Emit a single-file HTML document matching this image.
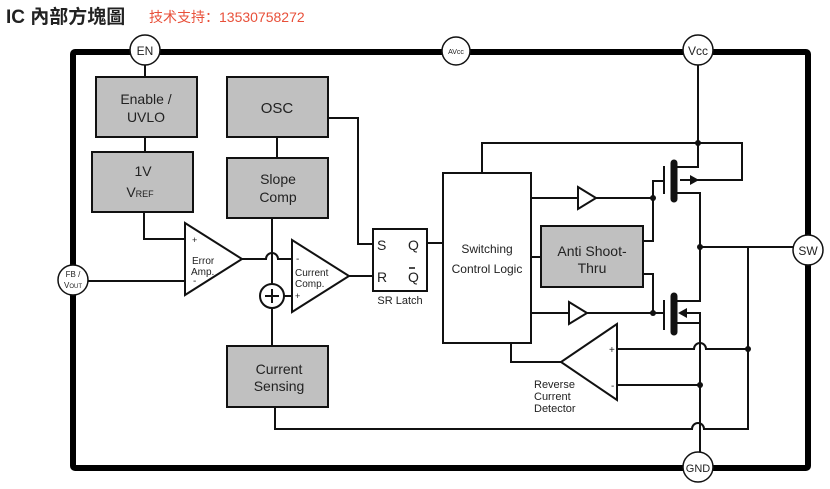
<!DOCTYPE html>
<html><head><meta charset="utf-8"><style>
body{margin:0;background:#fff;width:830px;height:489px;overflow:hidden}
svg{display:block}
text{font-family:"Liberation Sans",Arial,sans-serif;fill:#222}
</style></head><body>
<svg width="830" height="489" viewBox="0 0 830 489">
<text x="6" y="23" font-size="19" font-weight="bold" fill="#111" style="font-family:'Liberation Sans','Noto Sans CJK TC',sans-serif">IC 內部方塊圖</text>
<text x="149" y="22" font-size="14" style="font-family:'Liberation Sans','Noto Sans CJK SC',sans-serif;fill:#e8503a">技术支持：13530758272</text>
<rect x="73" y="52" width="735" height="416" fill="none" stroke="#000" stroke-width="6" rx="2"/>
<g fill="none" stroke="#111" stroke-width="2">
<path d="M145 65V77M145 137V152M277 137V158"/>
<path d="M144 212V239H185"/>
<path d="M88 281H185"/>
<path d="M242 259H266A6 6 0 0 1 278 259H292"/>
<path d="M272 218V284M272 308V346M284 296H292"/>
<path d="M349 276H373"/>
<path d="M328 118H358V244H373"/>
<path d="M427 243H443"/>
<path d="M275 407V429H692A6 6 0 0 1 704 429H748V247"/>
<path d="M700 247H793"/>
<path d="M482 173V143H742V180H680"/>
<path d="M698 65V167H674"/>
<path d="M674 193H700V301H674"/>
<path d="M664 166V194M664 300V330"/>
<path d="M531 198H578M596 198H653V181H664"/>
<path d="M643 241H653V198"/>
<path d="M531 257H541"/>
<path d="M531 313H569M587 313H664"/>
<path d="M643 274H653V313"/>
<path d="M682 313H700V323H674M700 323V452"/>
<path d="M617 349H694A6 6 0 0 1 706 349H748"/>
<path d="M617 385H700"/>
<path d="M561 362H511V343"/>
</g>
<g stroke="#111" stroke-width="7" stroke-linecap="round"><path d="M674 163V199M674 296V332"/></g>
<g fill="#111"><path d="M699 180l-9-5v10z"/><path d="M678 313l9-5v10z"/>
<circle cx="698" cy="143" r="3"/><circle cx="700" cy="247" r="3"/><circle cx="653" cy="198" r="3"/><circle cx="653" cy="313" r="3"/><circle cx="700" cy="385" r="3"/><circle cx="748" cy="349" r="3"/></g>
<g fill="#c0c0c0" stroke="#111" stroke-width="2">
<rect x="96" y="77" width="101" height="60"/><rect x="92" y="152" width="101" height="60"/>
<rect x="227" y="77" width="101" height="60"/><rect x="227" y="158" width="101" height="60"/>
<rect x="227" y="346" width="101" height="61"/><rect x="541" y="226" width="102" height="61"/>
</g>
<g fill="#fff" stroke="#111" stroke-width="2">
<rect x="443" y="173" width="88" height="170"/><rect x="373" y="229" width="54" height="62"/>
<path d="M185 223L242 259L185 295Z"/><path d="M292 240L349 276L292 312Z"/>
<path d="M617 324L561 362L617 400Z"/>
<path d="M578 187L596 198L578 209Z"/><path d="M569 302L587 313L569 324Z"/>
<circle cx="272" cy="296" r="12"/>
</g>
<path d="M265 296H279M272 289V303" stroke="#111" stroke-width="2"/>
<g fill="#fff" stroke="#111" stroke-width="1.5">
<circle cx="145" cy="50" r="15"/><circle cx="456" cy="51" r="14"/><circle cx="698" cy="50" r="15"/>
<circle cx="73" cy="280" r="15"/><circle cx="808" cy="250" r="15"/><circle cx="698" cy="467" r="15"/>
</g>
<g text-anchor="middle">
<text x="145" y="55" font-size="12">EN</text>
<text x="456" y="54" font-size="7">AVcc</text>
<text x="698" y="55" font-size="12">Vcc</text>
<text x="73" y="277" font-size="8">FB /</text><text x="73" y="288" font-size="8">V<tspan font-size="6">OUT</tspan></text>
<text x="808" y="255" font-size="12">SW</text>
<text x="698" y="472" font-size="11">GND</text>
<text x="146" y="104" font-size="14">Enable /</text><text x="146" y="122" font-size="14">UVLO</text>
<text x="143" y="176" font-size="14">1V</text><text x="140" y="197" font-size="14">V<tspan font-size="9">REF</tspan></text>
<text x="277" y="113" font-size="15">OSC</text>
<text x="278" y="184" font-size="14">Slope</text><text x="278" y="202" font-size="14">Comp</text>
<text x="279" y="374" font-size="14">Current</text><text x="279" y="391" font-size="14">Sensing</text>
<text x="592" y="256" font-size="14">Anti Shoot-</text><text x="592" y="273" font-size="14">Thru</text>
<text x="487" y="253" font-size="12">Switching</text><text x="487" y="273" font-size="12">Control Logic</text>
<text x="400" y="304" font-size="11">SR Latch</text>
</g>
<text x="377" y="250" font-size="14">S</text><text x="377" y="282" font-size="14">R</text>
<text x="408" y="250" font-size="14">Q</text><text x="408" y="282" font-size="14">Q</text>
<path d="M409 268H415" stroke="#111" stroke-width="1.5"/>
<text x="192" y="243" font-size="9">+</text><text x="192" y="264" font-size="10">Error</text><text x="191" y="275" font-size="10">Amp.</text><text x="193" y="284" font-size="10">-</text>
<text x="296" y="262" font-size="10">-</text><text x="295" y="276" font-size="10">Current</text><text x="295" y="287" font-size="10">Comp.</text><text x="295" y="299" font-size="9">+</text>
<text x="609" y="353" font-size="10">+</text><text x="611" y="389" font-size="10">-</text>
<text x="534" y="388" font-size="11">Reverse</text><text x="534" y="400" font-size="11">Current</text><text x="534" y="412" font-size="11">Detector</text>
</svg>
</body></html>
